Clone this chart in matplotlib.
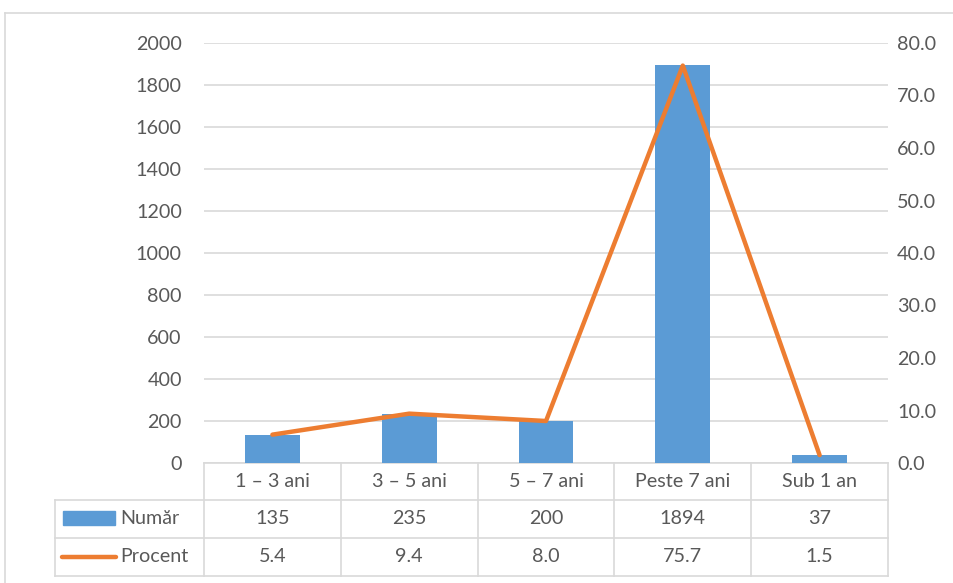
import matplotlib
matplotlib.use("Agg")
import matplotlib.pyplot as plt
from matplotlib.lines import Line2D
from matplotlib.patches import Rectangle
import matplotlib.transforms as mtransforms

categories = ["1 – 3 ani", "3 – 5 ani", "5 – 7 ani", "Peste 7 ani", "Sub 1 an"]
numar = [135, 235, 200, 1894, 37]
procent = [5.4, 9.4, 8.0, 75.7, 1.5]
left_ticks = [0, 200, 400, 600, 800, 1000, 1200, 1400, 1600, 1800, 2000]
right_ticks = [0, 10, 20, 30, 40, 50, 60, 70, 80]

BLUE = "#5B9BD5"
ORANGE = "#ED7D31"
GRID = "#D9D9D9"
TEXT = "#595959"
FONT = "Lato"
FS = 14.2

plt.rcParams["font.family"] = [FONT, "DejaVu Sans"]

W, H = 954, 583
fig = plt.figure(figsize=(W / 100, H / 100), dpi=100)

# chart frame (top and left edges visible)
fig.add_artist(Line2D([5 / W, 1.0], [1 - 13 / H, 1 - 13 / H], color=GRID, lw=1.2,
                      transform=fig.transFigure))
fig.add_artist(Line2D([5 / W, 5 / W], [0, 1 - 13 / H], color=GRID, lw=1.2,
                      transform=fig.transFigure))

x0, x1 = 204, 888
y_top, y_bot = 43, 463
ax = fig.add_axes([x0 / W, 1 - y_bot / H, (x1 - x0) / W, (y_bot - y_top) / H])
ax2 = ax.twinx()

xs = list(range(len(categories)))
ax.bar(xs, numar, width=0.4, color=BLUE, zorder=3)
ax.set_xlim(-0.5, len(categories) - 0.5)
ax.set_ylim(0, 2000)
ax.set_yticks(left_ticks)
ax.set_yticklabels([str(v) for v in left_ticks])
ax.grid(axis="y", color=GRID, lw=1.2, zorder=0)
ax.set_axisbelow(True)
ax.set_xticks([])
for s in ax.spines.values():
    s.set_visible(False)
ax.tick_params(axis="y", length=0, pad=16, labelsize=FS, labelcolor=TEXT)

ax2.plot(xs, procent, color=ORANGE, lw=3.2, solid_capstyle="round", zorder=4)
ax2.set_ylim(0, 80)
ax2.set_yticks(right_ticks)
ax2.set_yticklabels([f"{v:.1f}" for v in right_ticks])
for s in ax2.spines.values():
    s.set_visible(False)
ax2.tick_params(axis="y", length=0, pad=6.5, labelsize=FS, labelcolor=TEXT)

# data table below the plot: x in data units, y in axes units
trans = mtransforms.blended_transform_factory(ax.transData, ax.transAxes)
ph = y_bot - y_top
def ay(py):
    return (y_bot - py) / ph

row_edges = [463, 500, 538, 576]
left_px = 55
left_ax = (left_px - x0) / (x1 - x0)
n = len(categories)

tbl_kw = dict(color=GRID, lw=1.2, clip_on=False)
# horizontal lines
ax.add_line(Line2D([-0.5, n - 0.5], [ay(row_edges[0])] * 2, transform=trans, **tbl_kw))
for r in row_edges[1:]:
    ax.add_line(Line2D([left_ax, 1.0], [ay(r)] * 2, transform=ax.transAxes, **tbl_kw))
# vertical lines
for i in range(n + 1):
    ax.add_line(Line2D([i - 0.5, i - 0.5], [ay(row_edges[0]), ay(row_edges[-1])],
                       transform=trans, **tbl_kw))
ax.add_line(Line2D([left_ax, left_ax], [ay(row_edges[1]), ay(row_edges[-1])],
                   transform=ax.transAxes, **tbl_kw))

txt_kw = dict(ha="center", va="center", fontsize=FS, color=TEXT, clip_on=False)
rows = [categories, [str(v) for v in numar], [f"{v:.1f}" for v in procent]]
for r, vals in enumerate(rows):
    yc = ay((row_edges[r] + row_edges[r + 1]) / 2)
    for i, v in enumerate(vals):
        ax.text(i, yc, v, transform=trans, **txt_kw)

# series keys in the table's first column
def ax_x(px):
    return (px - x0) / (x1 - x0)

yc1 = ay((row_edges[1] + row_edges[2]) / 2)
yc2 = ay((row_edges[2] + row_edges[3]) / 2)
ax.add_patch(Rectangle((ax_x(63), ay(525)), ax_x(115) - ax_x(63), ay(511) - ay(525),
                       transform=ax.transAxes, color=BLUE, clip_on=False))
ax.add_line(Line2D([ax_x(62), ax_x(116)], [yc2, yc2], transform=ax.transAxes,
                   color=ORANGE, lw=3.2, solid_capstyle="round", clip_on=False))
ax.text(ax_x(120), yc1, "Număr", transform=ax.transAxes, ha="left", va="center",
        fontsize=FS, color=TEXT, clip_on=False)
ax.text(ax_x(120), yc2, "Procent", transform=ax.transAxes, ha="left", va="center",
        fontsize=FS, color=TEXT, clip_on=False)

fig.savefig("out.png", dpi=100)
